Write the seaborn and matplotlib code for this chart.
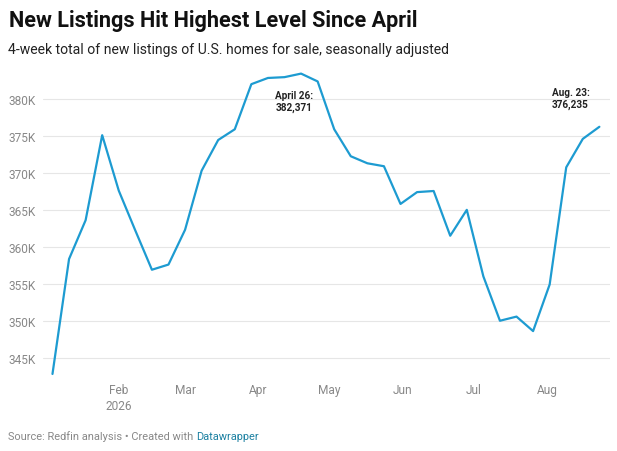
import pandas as pd
import matplotlib
matplotlib.use("Agg")
import matplotlib.pyplot as plt
import seaborn as sns

# weekly, 4-week total of new listings (seasonally adjusted)
weeks = pd.date_range("2026-01-04", "2026-08-23", freq="7D")
listings = [342800, 358350, 363600, 375100, 367600, 362200, 356900, 357600,
            362300, 370300, 374450, 375900, 382000, 382840, 382950, 383430,
            382371, 375900, 372250, 371300, 370900, 365800, 367400, 367550,
            361500, 365000, 356000, 350000, 350560, 348600, 354900, 370750,
            374600, 376235]
y_ticks = [345000, 350000, 355000, 360000, 365000, 370000, 375000, 380000]
y_labels = ["345K", "350K", "355K", "360K", "365K", "370K", "375K", "380K"]
month_ticks = pd.to_datetime(["2026-02-01", "2026-03-01", "2026-04-01", "2026-05-01",
                              "2026-06-01", "2026-07-01", "2026-08-01"])
month_labels = ["Feb\n2026", "Mar", "Apr", "May", "Jun", "Jul", "Aug"]

df = pd.DataFrame({"week": weeks, "listings": listings})

sns.set_style("white")
plt.rcParams['font.family'] = ['Roboto', 'DejaVu Sans']

fig = plt.figure(figsize=(6.17, 4.52), dpi=100)
ax = fig.add_axes([0.0697, 0.1655, 0.919, 0.6755])

sns.lineplot(data=df, x="week", y="listings", ax=ax, color="#1d9bd1", linewidth=1.6)

ax.set_xlim(pd.Timestamp("2025-12-31"), pd.Timestamp("2026-08-27 12:00"))
ax.set_ylim(342500, 383800)
ax.set_yticks(y_ticks)
ax.set_yticklabels(y_labels)
ax.set_xticks(month_ticks)
ax.set_xticklabels(month_labels, linespacing=1.3)
ax.tick_params(axis="both", length=0, labelsize=8.6, labelcolor="#888888")
ax.tick_params(axis="y", pad=5)
ax.tick_params(axis="x", pad=5)
ax.grid(axis="y", color="#e6e6e6", linewidth=0.8)
ax.set_axisbelow(True)
for s in ax.spines.values():
    s.set_visible(False)
ax.set_xlabel("")
ax.set_ylabel("")

# annotations
ax.text(pd.Timestamp("2026-04-16"), 379700, "April 26:\n382,371", ha="center", va="center",
        fontsize=7.2, fontweight="bold", color="#222222", linespacing=1.2)
ax.text(pd.Timestamp("2026-08-03"), 380100, "Aug. 23:\n376,235", ha="left", va="center",
        fontsize=7.2, fontweight="bold", color="#222222", linespacing=1.2)

fig.text(9/617, 1 - 27/452, "New Listings Hit Highest Level Since April", fontsize=15.6,
         fontweight="bold", color="#111111", ha="left", va="baseline")
fig.text(8/617, 1 - 54/452, "4-week total of new listings of U.S. homes for sale, seasonally adjusted",
         fontsize=10.1, color="#222222", ha="left", va="baseline")

src = fig.text(8/617, 1 - 440/452, "Source: Redfin analysis \u2022 Created with ", fontsize=7.9,
               color="#888888", ha="left", va="baseline")
fig.canvas.draw()
bb = src.get_window_extent()
fig.text(bb.x1 / fig.bbox.width, 1 - 440/452, "Datawrapper", fontsize=7.9,
         color="#1d81a2", ha="left", va="baseline")

fig.savefig("out.png", dpi=100)
